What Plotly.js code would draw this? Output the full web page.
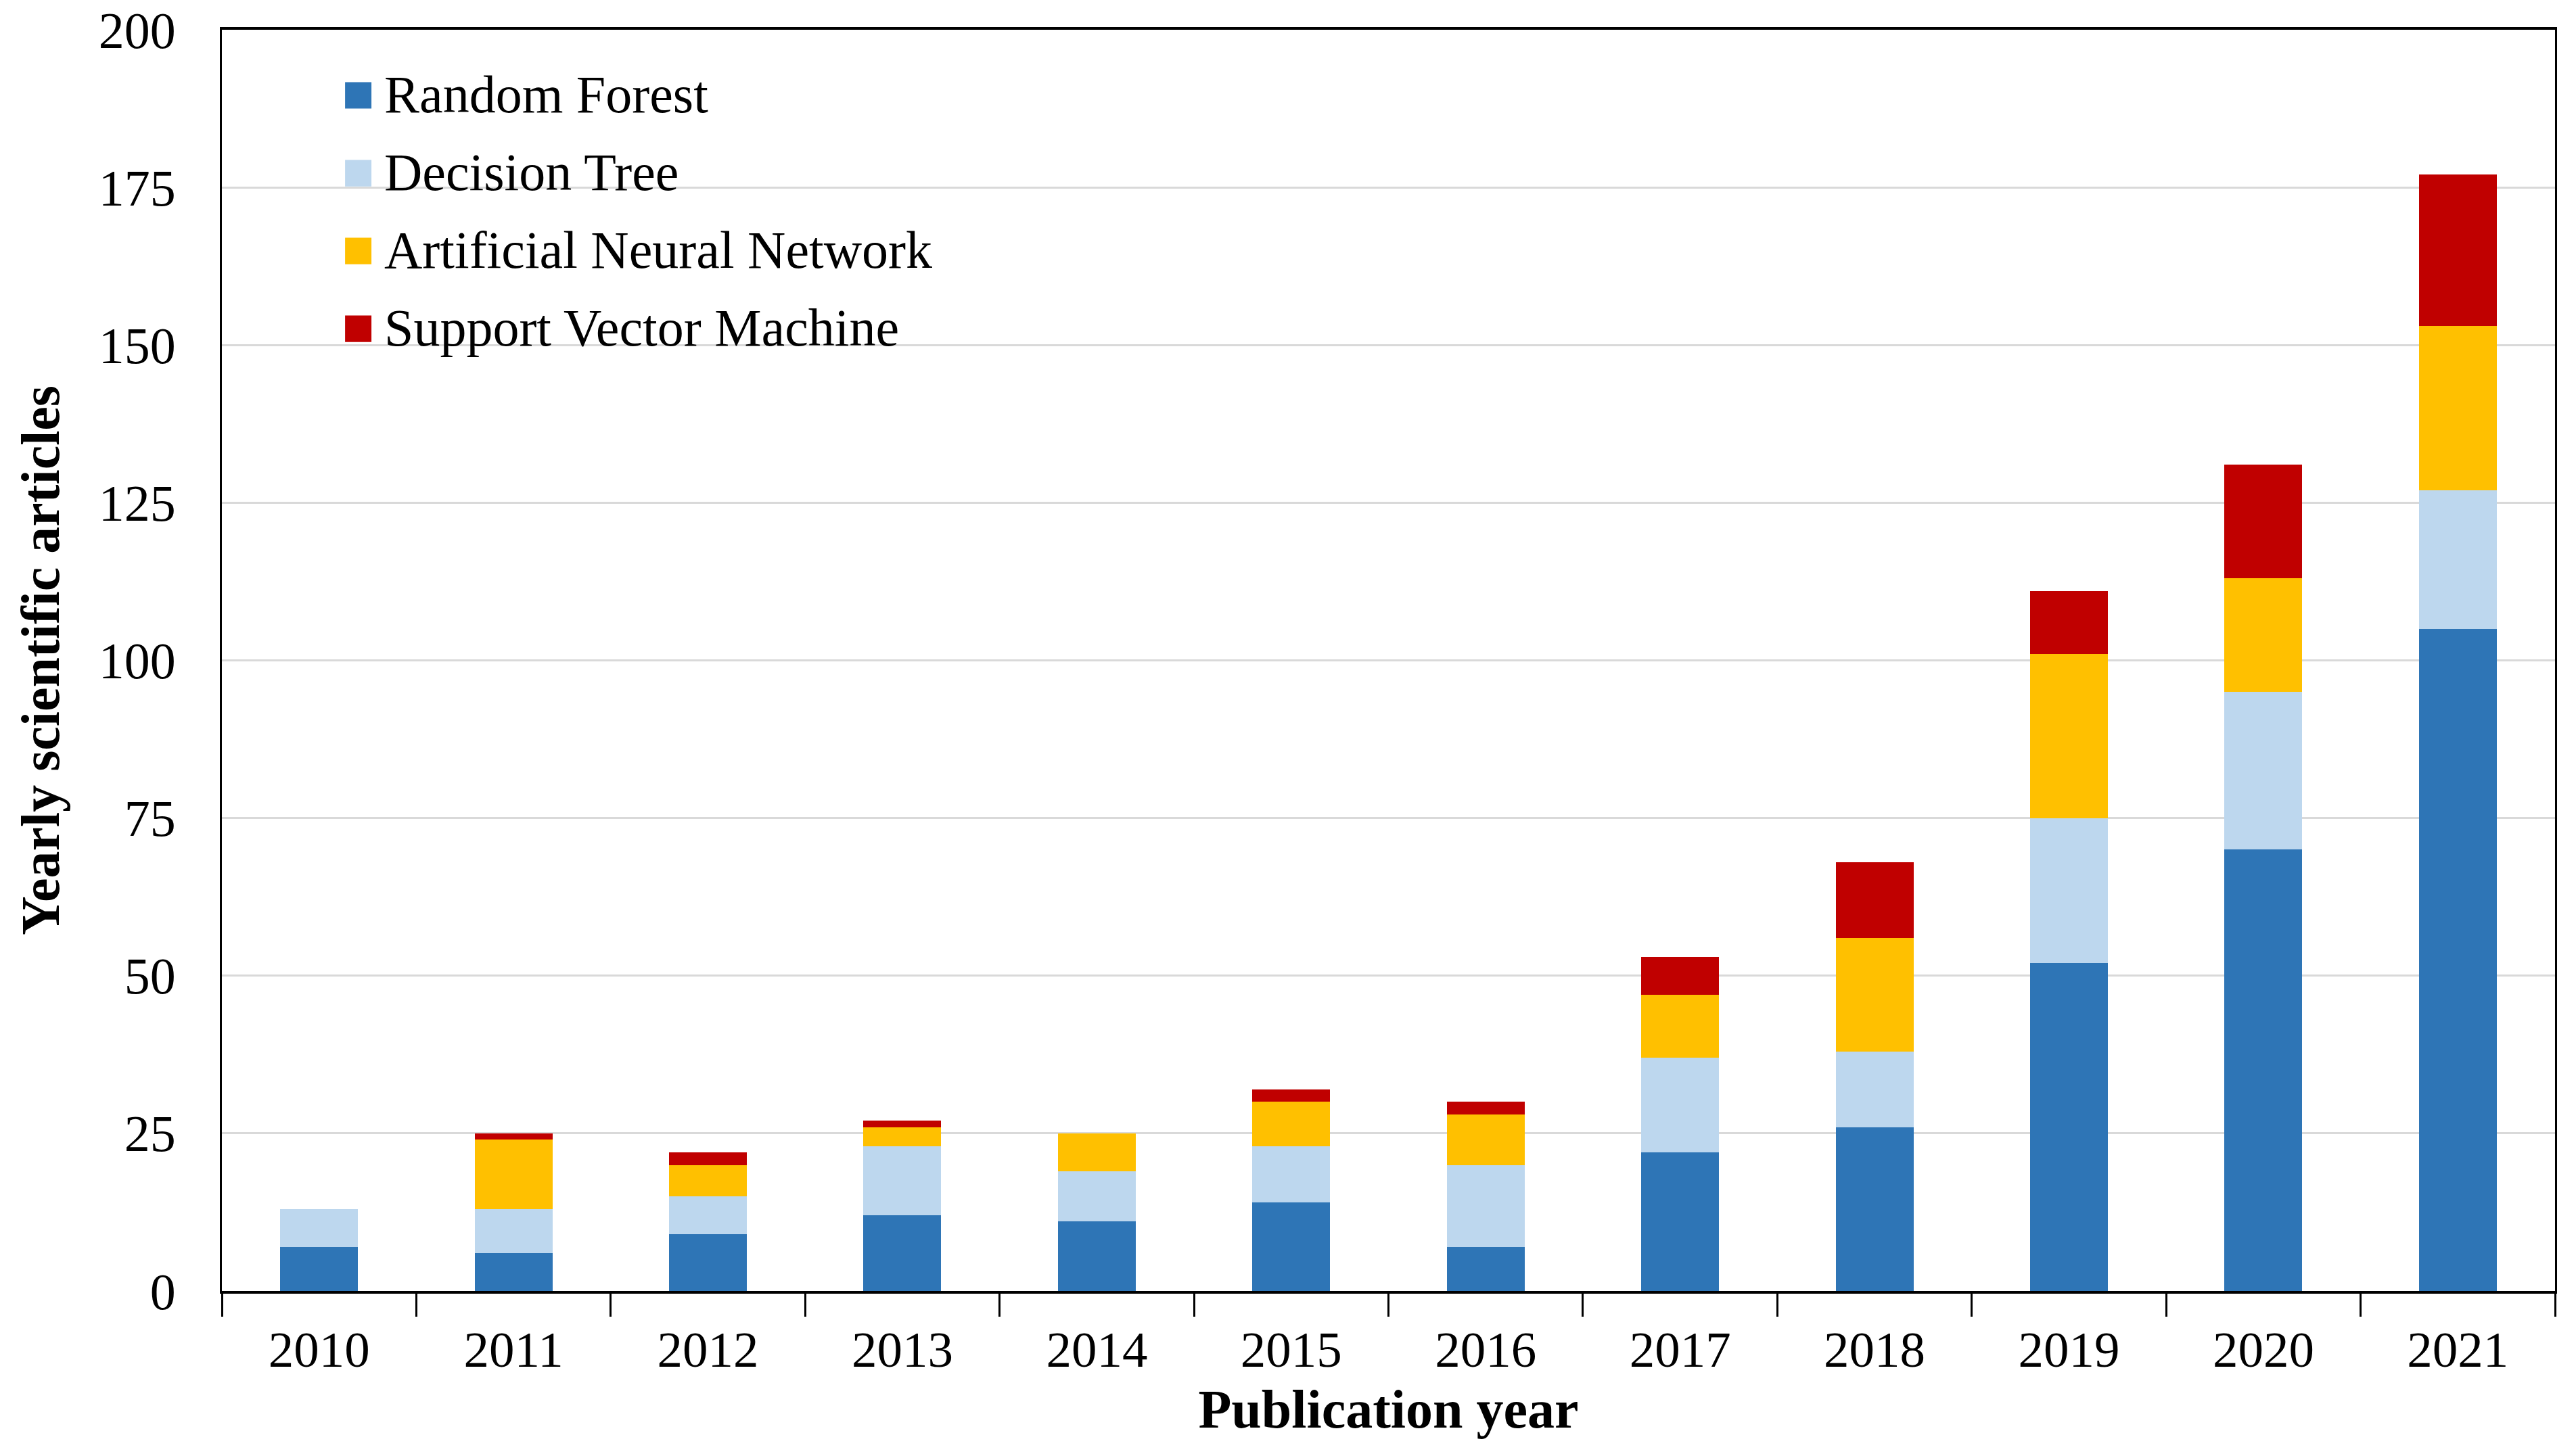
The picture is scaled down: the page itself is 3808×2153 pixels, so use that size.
<!DOCTYPE html>
<html>
<head>
<meta charset="utf-8">
<script src="https://cdn.plot.ly/plotly-3.0.1.min.js"></script>
<style>html,body{margin:0;padding:0;background:#fff;}#chart{width:3808px;height:2153px;}</style>
</head>
<body>
<div id="chart"></div>
<script>
const years = ["2010","2011","2012","2013","2014","2015","2016","2017","2018","2019","2020","2021"];
const seriesNames = ["Random Forest","Decision Tree","Artificial Neural Network","Support Vector Machine"];
const seriesColors = ["#2E75B6","#BDD7EE","#FFC000","#C00000"];
const randomForest = [7, 6, 9, 12, 11, 14, 7, 22, 26, 52, 70, 105];
const decisionTree = [6, 7, 6, 11, 8, 9, 13, 15, 12, 23, 25, 22];
const neuralNetwork = [0, 11, 5, 3, 6, 7, 8, 10, 18, 26, 18, 26];
const supportVector = [0, 1, 2, 1, 0, 2, 2, 6, 12, 10, 18, 24];
const yTicks = [0, 25, 50, 75, 100, 125, 150, 175, 200];

const seriesValues = [randomForest, decisionTree, neuralNetwork, supportVector];
const FONT = "Liberation Serif, Times New Roman, serif";

const traces = seriesValues.map((vals, i) => ({
  type: "bar",
  name: seriesNames[i],
  x: years,
  y: vals,
  marker: {color: seriesColors[i], line: {width: 0}},
  showlegend: false,
  hoverinfo: "x+y+name"
}));

// Manual legend (white box hiding gridlines, colored squares, labels)
const shapes = [{
  type: "rect", xref: "paper", yref: "paper", layer: "between",
  x0: 0.0116, x1: 0.334, y0: 0.737, y1: 0.995,
  fillcolor: "#ffffff", line: {width: 0}
}];
const annotations = [];
const legTop = 0.948, legStep = 0.0617, half = 0.0105;
seriesNames.forEach((name, i) => {
  const yc = legTop - i * legStep;
  shapes.push({
    type: "rect", xref: "paper", yref: "paper", layer: "above",
    x0: 0.0528, x1: 0.0641, y0: yc - half, y1: yc + half,
    fillcolor: seriesColors[i], line: {width: 0}
  });
  annotations.push({
    xref: "paper", yref: "paper", x: 0.069, y: yc + 0.001,
    xanchor: "left", yanchor: "middle", showarrow: false,
    text: name, font: {family: FONT, size: 78, color: "#000"}
  });
});

const layout = {
  width: 3808, height: 2153,
  margin: {l: 328, r: 31, t: 44, b: 244},
  paper_bgcolor: "#fff", plot_bgcolor: "#fff",
  barmode: "stack",
  bargap: 0.6,
  font: {family: FONT, size: 75, color: "#000"},
  xaxis: {
    type: "category",
    tickson: "boundaries",
    ticks: "outside", ticklen: 34, tickwidth: 3, tickcolor: "#000",
    ticklabelstandoff: 18,
    showline: true, linecolor: "#000", linewidth: 4, mirror: true,
    showgrid: false,
    tickfont: {family: FONT, size: 75, color: "#000"},
    title: {text: "<b>Publication year</b>", font: {family: FONT, size: 80, color: "#000"}, standoff: 20}
  },
  yaxis: {
    range: [0, 200],
    tickvals: yTicks,
    ticks: "", ticklabelstandoff: 50,
    showline: true, linecolor: "#000", linewidth: 3, mirror: true,
    showgrid: true, gridcolor: "#d9d9d9", gridwidth: 3,
    zeroline: false,
    tickfont: {family: FONT, size: 76, color: "#000"},
    title: {text: "<b>Yearly scientific articles</b>", font: {family: FONT, size: 80, color: "#000"}, standoff: 32}
  },
  shapes: shapes,
  annotations: annotations,
  showlegend: false
};

Plotly.newPlot("chart", traces, layout, {displayModeBar: false, staticPlot: true});
</script>
</body>
</html>
